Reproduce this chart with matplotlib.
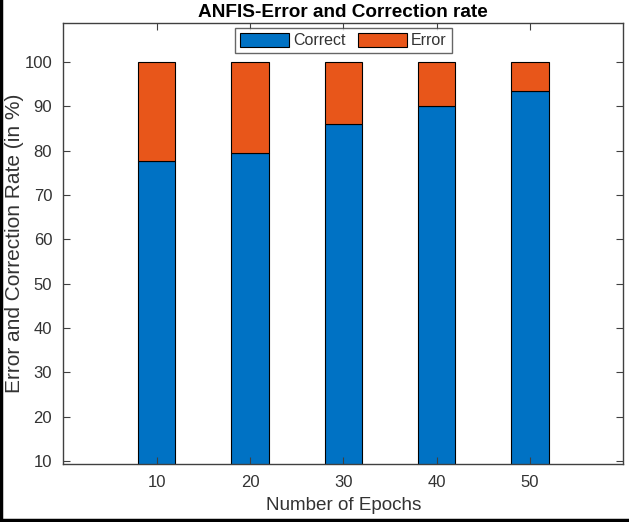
import matplotlib.pyplot as plt
from matplotlib.lines import Line2D

# values
epochs = [10, 20, 30, 40, 50]
correct = [77.8, 79.6, 86.1, 90.1, 93.4]
error = [22.2, 20.4, 13.9, 9.9, 6.6]

blue = '#0072C4'
orange = '#E8561A'
grey = '#404040'

plt.rcParams['font.family'] = ['Liberation Sans', 'DejaVu Sans']

fig = plt.figure(figsize=(6.29, 5.22), dpi=100)
ax = fig.add_axes([0.1006, 0.1105, 0.8903, 0.846])

ax.bar(epochs, correct, width=4, color=blue, edgecolor='black', linewidth=0.8, label='Correct')
ax.bar(epochs, error, width=4, bottom=correct, color=orange, edgecolor='black', linewidth=0.8, label='Error')

ax.set_xlim(0, 60)
ax.set_ylim(9.25, 108.9)
ax.set_xticks(epochs)
ax.set_yticks(range(10, 101, 10))

for s in ax.spines.values():
    s.set_color(grey)
    s.set_linewidth(1.0)
ax.tick_params(direction='in', length=5, width=0.8, color=grey, labelcolor='#333333',
               labelsize=12, top=True, right=True, pad=8)

ax.set_title('ANFIS-Error and Correction rate', fontsize=13.7, fontweight='bold', pad=4)
ax.set_xlabel('Number of Epochs', fontsize=13.6, color='#333333')
ax.set_ylabel('Error and Correction Rate (in %)', fontsize=15, color='#333333')
ax.xaxis.set_label_coords(0.5, -0.074)
ax.yaxis.set_label_coords(-0.071, 0.5)

leg = ax.legend(loc='upper center', ncol=2, fontsize=11.5, frameon=True, fancybox=False,
                handlelength=3.1, handleheight=0.95, handletextpad=0.25, columnspacing=0.75,
                borderpad=0.3, borderaxespad=0.35)
leg.get_frame().set_edgecolor(grey)
leg.get_frame().set_linewidth(1.0)
for t in leg.get_texts():
    t.set_color('#333333')

# black frame on the left and bottom of the screenshot
fig.add_artist(Line2D([0.002, 0.002], [0, 1], color='black', linewidth=2.5))
fig.add_artist(Line2D([0, 1], [0.003, 0.003], color='black', linewidth=2.5))

fig.savefig('out.png', dpi=100)
